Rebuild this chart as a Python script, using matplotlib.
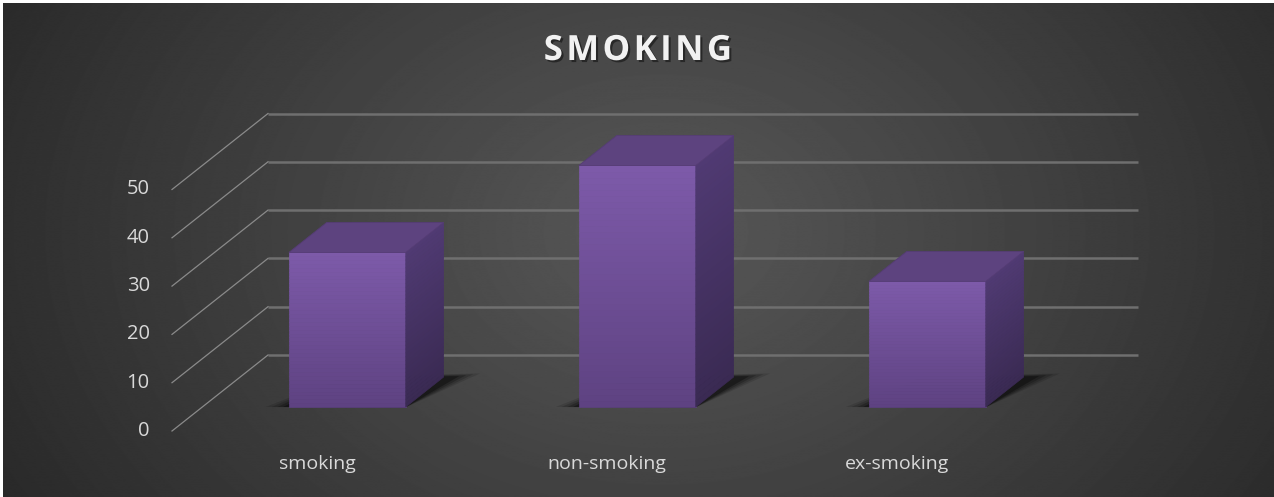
import numpy as np
import matplotlib.pyplot as plt
from matplotlib.patches import Polygon
import matplotlib.patheffects as pe

categories = ['smoking', 'non-smoking', 'ex-smoking']
values = [32, 50, 26]
y_ticks = [0, 10, 20, 30, 40, 50]
title = 'SMOKING'

W, H = 1274, 497
plt.rcParams['font.family'] = ['Open Sans', 'DejaVu Sans']

fig = plt.figure(figsize=(W / 100, H / 100), dpi=100, facecolor='white')

# fondo con degradado radial
bg = fig.add_axes([3 / W, 0, 1 - 3 / W, 1 - 3 / H])
yy, xx = np.mgrid[0:H, 0:W]
r = np.sqrt(((xx - 660) / 760) ** 2 + ((yy - 230) / 560) ** 2)
shade = np.clip((0x58 - (0x58 - 0x29) * r) / 255, 0.15, 1)
bg.imshow(shade, cmap='gray', vmin=0, vmax=1, aspect='auto', interpolation='bilinear')
bg.axis('off')

# ejes del plano frontal (valor 0 en y=431 px, 50 en y=189.5 px)
ax = fig.add_axes([172 / W, (H - 431) / H, 870 / W, 241.5 / H])
ax.set_xlim(-0.5, len(categories) - 0.5)
ax.set_ylim(0, 50)
ax.axis('off')

DX = 96 / 290            # desplazamiento en profundidad (unidades x)
DY = 76 * 50 / 241.5     # desplazamiento en profundidad (unidades y)


def proj(x, v, d):
    return (x + d * DX, v + d * DY)


def mix(c1, c2, t):
    c1 = np.array(c1) / 255
    c2 = np.array(c2) / 255
    return tuple(c1 + (c2 - c1) * t)


# rejilla: pared del fondo + líneas laterales
x_left, x_right = -0.5, len(categories) - 0.5
for v in y_ticks:
    p0, p1 = proj(x_left, v, 1), proj(x_right, v, 1)
    ax.plot([p0[0], p1[0]], [p0[1], p1[1]], color='#6f6f6f', lw=1.8, clip_on=False,
            solid_capstyle='butt', zorder=1)
    q0, q1 = proj(x_left, v, 0), proj(x_left, v, 1)
    ax.plot([q0[0], q1[0]], [q0[1], q1[1]], color='#8a8a8a', lw=0.9, clip_on=False, zorder=1)

# barras 3D
bw = 0.403
d0, d1 = 0.316, 0.71
n = 40
for i, h in enumerate(values):
    x0, x1 = i - bw / 2, i + bw / 2

    # sombra
    for k, a in zip([0.08, 0.06, 0.04, 0.02], [0.12, 0.16, 0.22, 0.32]):
        shadow = [proj(x0 - k, 0, d0), proj(x1, 0, d0 - 0.01),
                  proj(x1 + 0.03 + k, 0, d1 + k * 0.6), proj(x0 + 0.05, 0, d1)]
        ax.add_patch(Polygon(shadow, closed=True, facecolor='black', edgecolor='none',
                             alpha=a, clip_on=False, zorder=2))

    # cara frontal
    for k in range(n):
        va, vb = h * k / n, h * (k + 1) / n
        c = mix((0x5e, 0x42, 0x81), (0x7d, 0x5a, 0xaa), (k + 0.5) / n)
        ax.add_patch(Polygon([proj(x0, va, d0), proj(x1, va, d0), proj(x1, vb, d0), proj(x0, vb, d0)],
                             facecolor=c, edgecolor=c, lw=0.5, clip_on=False, zorder=3))
    # cara lateral
    for k in range(n):
        va, vb = h * k / n, h * (k + 1) / n
        c = mix((0x3a, 0x2a, 0x53), (0x50, 0x3a, 0x73), (k + 0.5) / n)
        ax.add_patch(Polygon([proj(x1, va, d0), proj(x1, vb, d0), proj(x1, vb, d1), proj(x1, va, d1)],
                             facecolor=c, edgecolor=c, lw=0.5, clip_on=False, zorder=3))
    # cara superior
    ax.add_patch(Polygon([proj(x0, h, d0), proj(x1, h, d0), proj(x1, h, d1), proj(x0, h, d1)],
                         facecolor='#5d437f', edgecolor='#553c75', lw=0.6, clip_on=False, zorder=3))

# etiquetas
for v in y_ticks:
    ax.annotate(str(v), xy=(x_left, v), xytext=(-16, 0), textcoords='offset points',
                ha='right', va='center', fontsize=14.5, color='#d9d9d9', annotation_clip=False)
for i, cat in enumerate(categories):
    ax.annotate(cat, xy=(i, 0), xytext=(0, -24), textcoords='offset points',
                ha='center', va='center', fontsize=14, color='#d9d9d9', annotation_clip=False)

# título con espaciado entre letras
fig.text(638 / W, 1 - 51 / H, '\u200a'.join(title), ha='center', va='center', fontsize=25,
         fontweight='bold', color='#f2f2f2',
         path_effects=[pe.withSimplePatchShadow(offset=(1.5, -1.5), shadow_rgbFace='black', alpha=0.45)])

fig.savefig('out.png', dpi=100, facecolor=fig.get_facecolor())
